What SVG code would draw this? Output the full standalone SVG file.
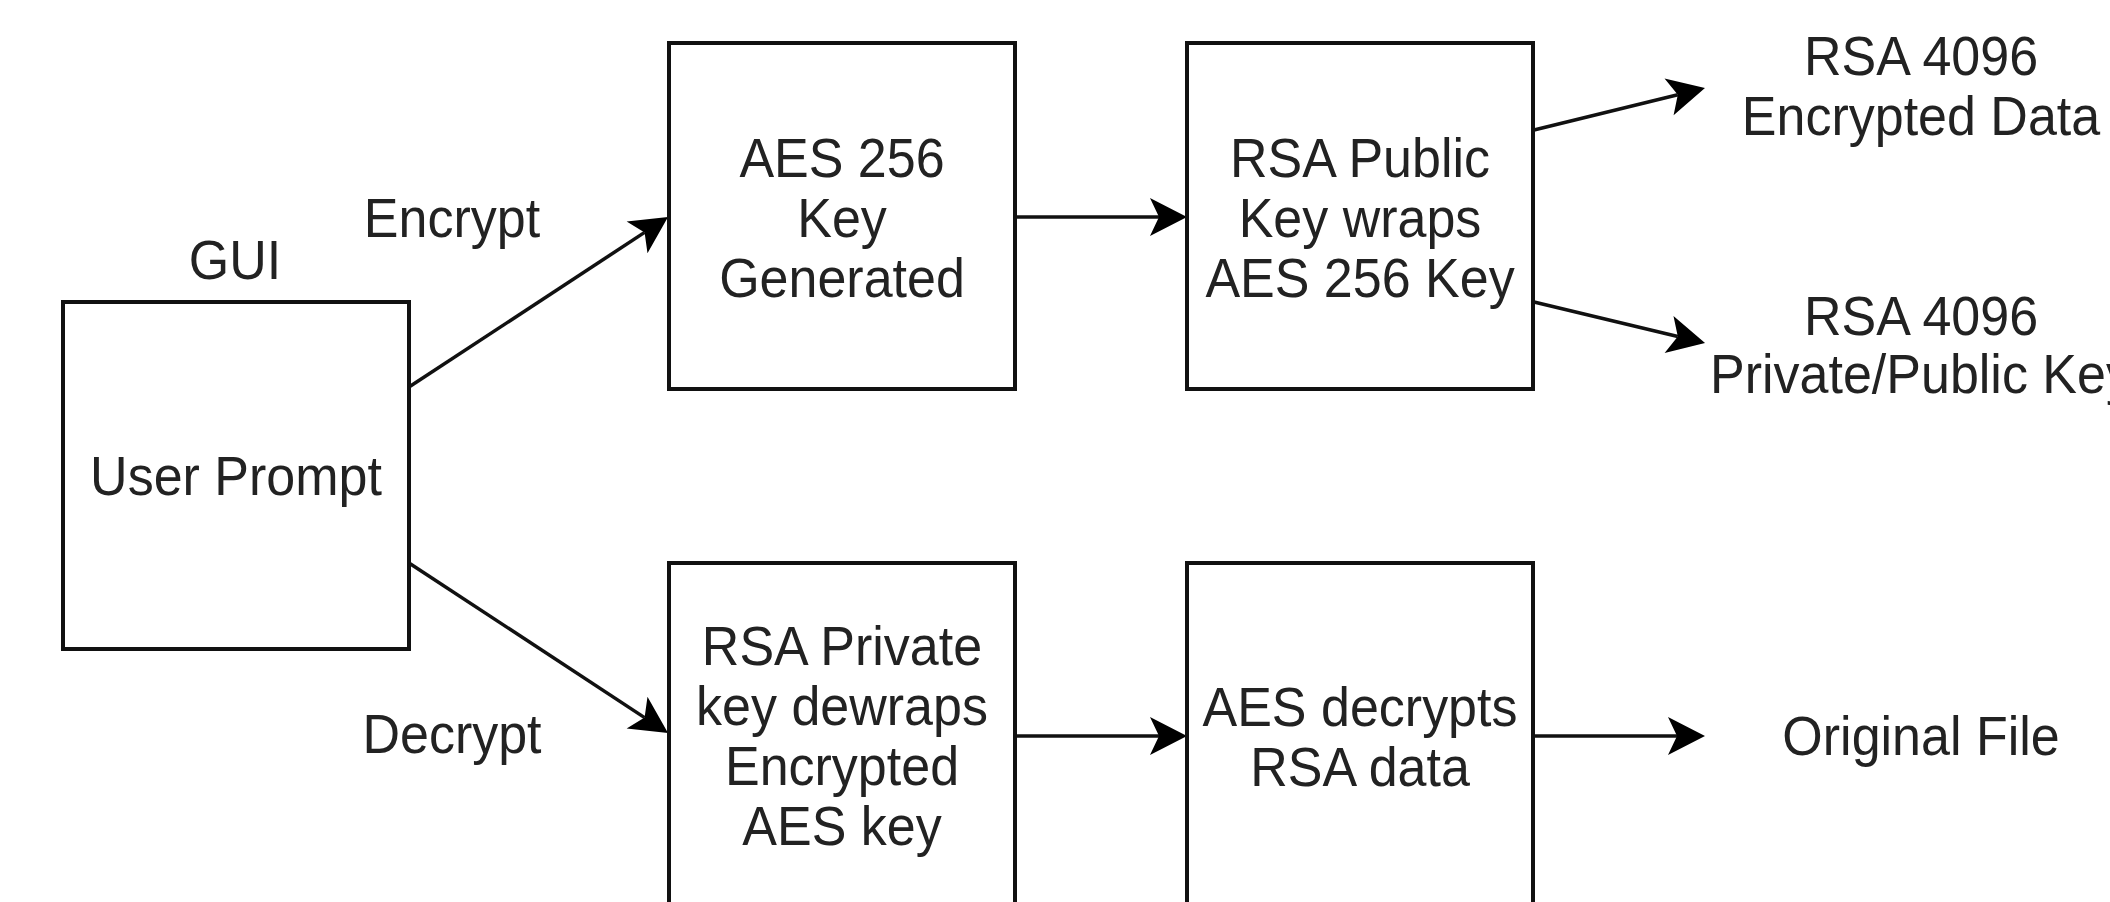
<svg xmlns="http://www.w3.org/2000/svg" width="2110" height="902" viewBox="0 0 2110 902">
<style>
  .box { fill: #fff; stroke: #111; stroke-width: 4; }
  .t { font-family: "Liberation Sans", Arial, sans-serif; font-size: 52px; fill: #222; text-anchor: middle; }
  .c { stroke: #111; stroke-width: 3.5; fill: none; marker-end: url(#arr); }
</style>
<defs>
  <marker id="arr" markerUnits="userSpaceOnUse" markerWidth="44" markerHeight="44" viewBox="-40 -22 44 44" refX="-28" refY="0" orient="auto" overflow="visible">
    <path d="M0,0 L-37,-19 L-28,0 L-37,19 Z" fill="#000"/>
  </marker>
</defs>
<rect width="2110" height="902" fill="#fff"/>
<g id="connectors">
  <line class="c" x1="409" y1="387" x2="644.6" y2="232.4"/>
  <line class="c" x1="409" y1="563" x2="644.6" y2="717.6"/>
  <line class="c" x1="1015" y1="217" x2="1159" y2="217"/>
  <line class="c" x1="1015" y1="736" x2="1159" y2="736"/>
  <line class="c" x1="1534" y1="130" x2="1677.8" y2="94.7"/>
  <line class="c" x1="1534" y1="302" x2="1677.8" y2="336.5"/>
  <line class="c" x1="1534" y1="736" x2="1677" y2="736"/>
</g>
<g id="labels">
  <text class="t" transform="translate(235 279) scale(1 1.08)">GUI</text>
  <text class="t" transform="translate(452 237) scale(1 1.08)">Encrypt</text>
  <text class="t" transform="translate(452 753) scale(1 1.08)">Decrypt</text>
</g>
<g id="user-prompt">
  <rect class="box" x="63" y="302" width="346" height="347"/>
  <text class="t" transform="translate(236 495) scale(1 1.08)">User Prompt</text>
</g>
<g id="aes-key-generated">
  <rect class="box" x="669" y="43" width="346" height="346"/>
  <text class="t" transform="translate(842 177) scale(1 1.08)">AES 256</text>
  <text class="t" transform="translate(842 237) scale(1 1.08)">Key</text>
  <text class="t" transform="translate(842 297) scale(1 1.08)">Generated</text>
</g>
<g id="rsa-public-wraps">
  <rect class="box" x="1187" y="43" width="346" height="346"/>
  <text class="t" transform="translate(1360 177) scale(1 1.08)">RSA Public</text>
  <text class="t" transform="translate(1360 237) scale(1 1.08)">Key wraps</text>
  <text class="t" transform="translate(1360 297) scale(1 1.08)">AES 256 Key</text>
</g>
<g id="rsa-private-dewraps">
  <rect class="box" x="669" y="563" width="346" height="346"/>
  <text class="t" transform="translate(842 665) scale(1 1.08)">RSA Private</text>
  <text class="t" transform="translate(842 725) scale(1 1.08)">key dewraps</text>
  <text class="t" transform="translate(842 785) scale(1 1.08)">Encrypted</text>
  <text class="t" transform="translate(842 845) scale(1 1.08)">AES key</text>
</g>
<g id="aes-decrypts">
  <rect class="box" x="1187" y="563" width="346" height="346"/>
  <text class="t" transform="translate(1360 726) scale(1 1.08)">AES decrypts</text>
  <text class="t" transform="translate(1360 786) scale(1 1.08)">RSA data</text>
</g>
<g id="rsa-encrypted-data">
  <text class="t" transform="translate(1921 75) scale(1 1.08)">RSA 4096</text>
  <text class="t" transform="translate(1921 135) scale(1 1.08)">Encrypted Data</text>
</g>
<g id="rsa-keypair">
  <text class="t" transform="translate(1921 335) scale(1 1.08)">RSA 4096</text>
  <text class="t" transform="translate(1921 393) scale(1 1.08)">Private/Public Key</text>
</g>
<g id="original-file">
  <text class="t" transform="translate(1921 755) scale(1 1.08)">Original File</text>
</g>
</svg>
